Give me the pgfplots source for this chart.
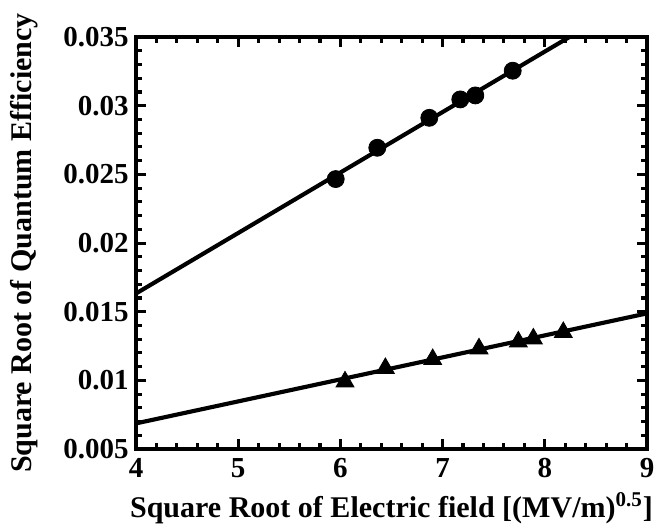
\documentclass[border=0pt]{standalone}
\usepackage{fontspec}
\setmainfont{Liberation Serif}
\usepackage{pgfplots}
\pgfplotsset{compat=1.18}
\begin{document}
\begin{tikzpicture}
\begin{axis}[
 name=ax,
 scale only axis, width=246.8pt, height=199pt,
 xmin=4, xmax=9, ymin=0.005, ymax=0.035,
 xtick={4,5,6,7,8,9}, xticklabels={4,5,6,7,8,9},
 ytick={0.005,0.01,0.015,0.02,0.025,0.03,0.035},
 yticklabels={0.005,0.01,0.015,0.02,0.025,0.03,0.035},
 scaled y ticks=false,
 minor x tick num=4, minor y tick num=4,
 tick align=inside, tick pos=both,
 major tick length=5pt, minor tick length=3pt,
 every tick/.style={black, line width=1.5pt},
 axis line style={line width=2pt},
 ticklabel style={font=\bfseries\fontsize{14}{14}\selectfont},
 xticklabel style={yshift=-1pt},
 label style={font=\bfseries\fontsize{14.5}{15}\selectfont},
 xlabel={Square Root of Electric field [(MV/m)\textsuperscript{0.5}]},
 ylabel={Square Root of Quantum Efficiency},
 x label style={at={(axis description cs:0.5,0)}, anchor=center, yshift=-28.5pt},
 y label style={at={(axis description cs:0,0.5)}, anchor=center, yshift=54pt},
]
\addplot[no marks, line width=2pt] coordinates {(4,0.01633) (8.24,0.035)};
\addplot[no marks, line width=2pt] coordinates {(4,0.00687) (9,0.01488)};
\addplot[only marks, mark=*, mark size=4.1pt] coordinates {
 (5.954,0.02466) (6.361,0.02694) (6.870,0.02912) (7.173,0.03046) (7.320,0.03075) (7.686,0.03255)};
\addplot[only marks, mark=triangle*, mark size=5pt] coordinates {
 (6.045,0.00990) (6.440,0.01088) (6.903,0.01153) (7.356,0.01231) (7.741,0.01281) (7.888,0.01303) (8.181,0.01350)};
\end{axis}
\pgfresetboundingbox
\path ([xshift=-65.7pt, yshift=-38.2pt]ax.south west) rectangle ([xshift=11.6pt, yshift=17.9pt]ax.north east);
\end{tikzpicture}
\end{document}
